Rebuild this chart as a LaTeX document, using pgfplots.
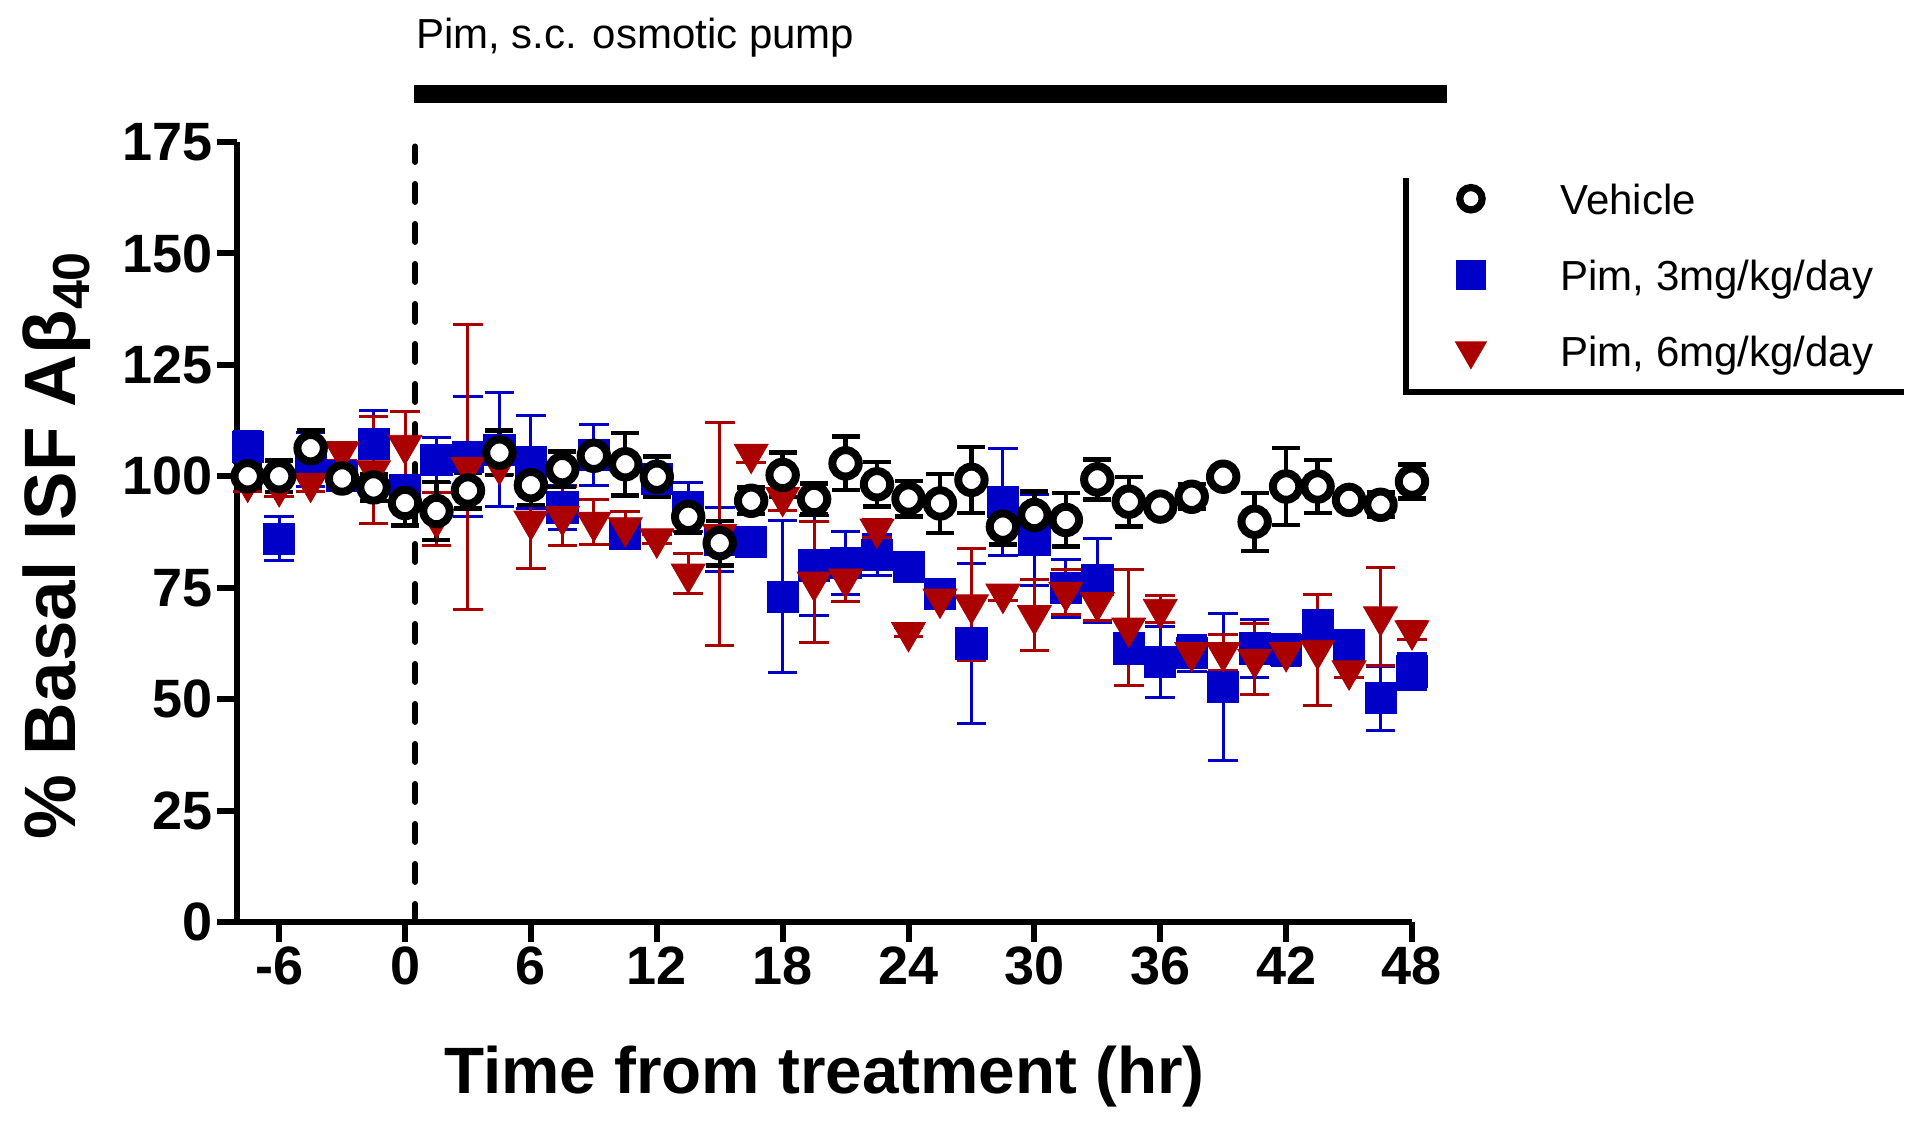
\documentclass[border=0pt]{standalone}
\usepackage{pgfplots}
\pgfplotsset{compat=1.18}
\usepackage{pgfplotstable}
\usepackage{fontspec}
\setmainfont{Liberation Sans}
\definecolor{pblue}{RGB}{0,0,200}
\definecolor{pred}{RGB}{170,0,0}

\pgfplotstableread{
t v e
-7.5 100.0 2.5
-6 100.0 3.5
-4.5 106.3 4
-3 99.5 2
-1.5 97.5 3
0 94 5
1.5 92.2 6.5
3 96.8 4
4.5 105.3 5
6 98.0 4.5
7.5 101.6 4
9 104.6 3
10.5 102.7 7
12 99.9 4.5
13.5 90.9 3.5
15 85 5
16.5 94.5 3
18 100.3 5
19.5 94.9 3.5
21 102.9 6
22.5 98.2 5
24 95 4
25.5 93.9 6.6
27 99.2 7.4
28.5 88.7 4
30 91.3 5.3
31.5 90.2 6
33 99.3 4.5
34.5 94.3 5.6
36 93.2 1.5
37.5 95.4 2.8
39 99.9 1
40.5 89.8 6.5
42 97.7 8.6
43.5 97.7 6
45 94.7 1
46.5 93.6 2.8
48 98.8 3.8
}\vehicle

\pgfplotstableread{
t v e
-7.5 106.6 3.5
-6 86.0 5
-4.5 103.8 6
-3 100 2
-1.5 107.2 7.5
0 97 3
1.5 103.6 5
3 104.4 13.5
4.5 106 12.7
6 103.2 10.5
7.5 93 5
9 104.8 6.8
10.5 87 3
12 99.4 3
13.5 93.2 5.5
15 85.8 7.2
16.5 85.3 2
18 73 17
19.5 80 11.3
21 80.5 7
22.5 82.3 4.6
24 79.7 2
25.5 73.6 2
27 62.5 18
28.5 94.3 12
30 85.7 10.3
31.5 74.9 6.5
33 76.7 9.4
34.5 61.4 2
36 58.4 8
37.5 60.3 4
39 52.8 16.5
40.5 61.4 6.5
42 61 3.5
43.5 66.6 2
45 62.1 2
46.5 50.2 7.2
48 56.2 4
}\pimthree

\pgfplotstableread{
t v e
-7.5 98.5 2
-6 97.5 2
-4.5 98.5 2
-3 105.5 2
-1.5 101.3 12
0 107 7.5
1.5 90.4 6
3 102 32
4.5 102.4 2
6 90 10.8
7.5 91 6.6
9 89.7 5
10.5 88.5 3.5
12 86 1
13.5 78.1 4.5
15 87 25
16.5 105 2
18 95.3 3
19.5 76.3 13.5
21 77 5
22.5 88.2 2
24 65 1
25.5 72.5 2
27 71.2 12.5
28.5 73.6 1.5
30 68.8 8
31.5 74 5
33 71.7 4
34.5 66 13
36 70.2 3
37.5 60.5 3
39 60.5 4
40.5 59 8
42 60.5 2
43.5 61 12.5
45 56.4 1.5
46.5 68.5 11
48 65.4 2
}\pimsix

\begin{document}
\begin{tikzpicture}
\path[use as bounding box] (0,0) rectangle (480pt,280.5pt);
\begin{axis}[
  at={(59.3pt,50pt)}, anchor=south west,
  scale only axis, width=293.7pt, height=195pt,
  xmin=-8, xmax=48, ymin=0, ymax=175,
  axis lines*=left,
  axis line style={-, line width=1.5pt, black},
  xtick={-6,0,...,48}, ytick={0,25,...,175},
  tick align=outside, major tick length=5pt,
  tick style={line width=1.5pt, black},
  /pgf/number format/assume math mode=true,
  ticklabel style={font=\fontsize{13.5}{15}\selectfont\bfseries, inner sep=1pt},
  clip=false,
  legend style={draw=none, fill=none, inner sep=0pt, outer sep=0pt,
    at={(axis cs:50.1,169.0)}, anchor=north west,
    font=\fontsize{10.5}{12}\selectfont, row sep=4pt,
    cells={anchor=west, inner sep=0pt, text height=9.5pt, text depth=2pt}},
  legend image code/.code={\draw[#1] plot coordinates {(0pt,0pt)}; \path[draw=none, fill=none] (0pt,0pt) -- (20.4pt,0pt);},
]
% dashed treatment line
\draw[line width=1.5pt, dash pattern=on 4.5pt off 5.5pt, line cap=round] (axis cs:0.48,0) -- (axis cs:0.48,174);
% treatment bar and label
\draw[line width=4.5pt] (axis cs:0.45,185.8) -- (axis cs:49.67,185.8);
\node[anchor=base west, inner sep=0pt, font=\fontsize{10.5}{12}\selectfont] at (axis cs:0.5,195.9) {Pim, s.c. osmotic pump};
% legend frame
\draw[line width=1.5pt] (axis cs:47.7,167) -- (axis cs:47.7,119) -- (axis cs:71.45,119);
% axis labels
\node[anchor=base, inner sep=0pt, font=\fontsize{16.4}{18}\selectfont\bfseries] at ([yshift=-42.9pt]rel axis cs:0.5,0) {Time from treatment (hr)};
\node[anchor=base, rotate=90, inner sep=0pt, font=\fontsize{18.2}{20}\selectfont\bfseries] at ([xshift=-40.3pt]rel axis cs:0,0.482) {\% Basal ISF Aβ\raisebox{-0.35ex}{\fontsize{13}{14}\selectfont 40}};

\addplot[forget plot, only marks, mark=square*, mark size=3.9pt, color=pblue,
  mark options={fill=pblue, draw=pblue, line width=0.2pt},
  error bars/.cd, y dir=both, y explicit,
  error bar style={line width=0.75pt, pblue},
  error mark options={rotate=90, mark size=3.7pt, line width=0.75pt, pblue}]
  table[x=t, y=v, y error=e] {\pimthree};
\addplot[forget plot, only marks, mark=triangle*, mark size=4.9pt, color=pred,
  mark options={rotate=180, fill=pred, draw=pred, line width=0.2pt},
  error bars/.cd, y dir=both, y explicit,
  error bar style={line width=0.75pt, pred},
  error mark options={rotate=90, mark size=3.7pt, line width=0.75pt, pred}]
  table[x=t, y=v, y error=e] {\pimsix};
\addplot[forget plot, only marks, mark=*, mark size=3.3pt,
  mark options={fill=white, draw=black, line width=2pt},
  error bars/.cd, y dir=both, y explicit,
  error bar style={line width=1.1pt, black},
  error mark options={rotate=90, mark size=3.5pt, line width=1.1pt, black}]
  table[x=t, y=v, y error=e] {\vehicle};
\addlegendimage{only marks, mark=*, mark size=2.8pt, mark options={fill=white, draw=black, line width=1.8pt}}
\addlegendentry{Vehicle}
\addlegendimage{only marks, mark=square*, mark size=3.6pt, color=pblue, mark options={fill=pblue, draw=pblue}}
\addlegendentry{Pim, 3mg/kg/day}
\addlegendimage{only marks, mark=triangle*, mark size=4.3pt, color=pred, mark options={rotate=180, fill=pred, draw=pred}}
\addlegendentry{Pim, 6mg/kg/day}
\end{axis}
\end{tikzpicture}
\end{document}
